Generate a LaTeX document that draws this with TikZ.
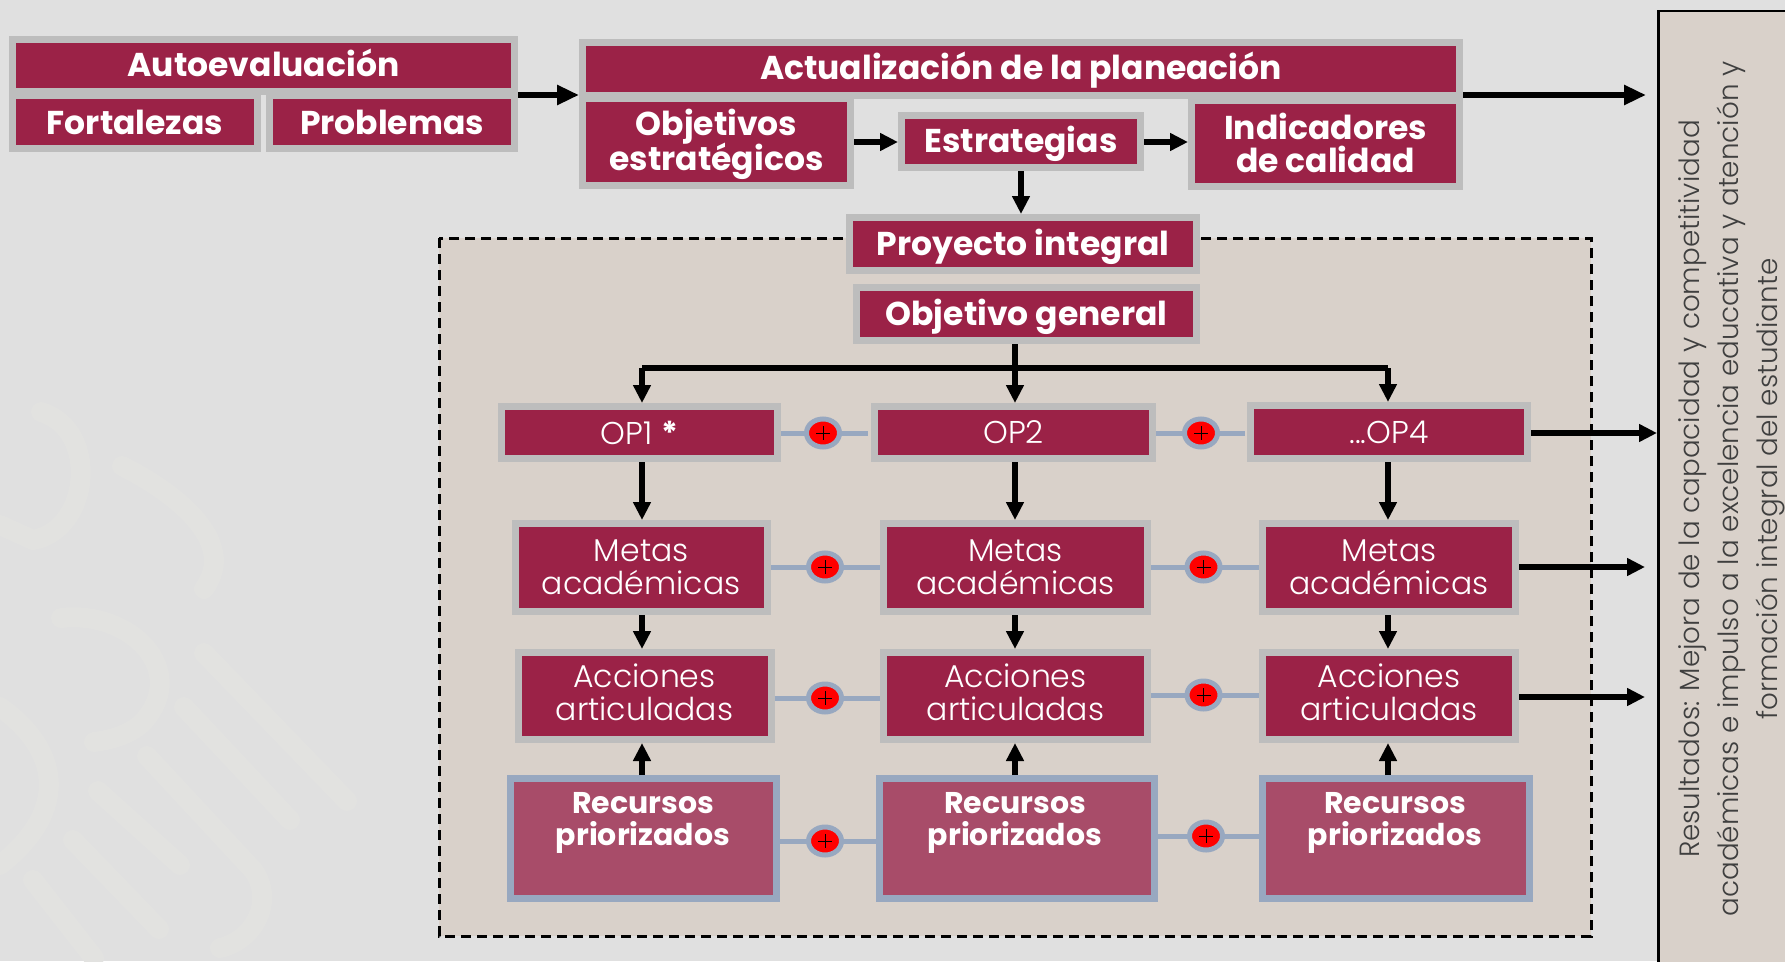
\documentclass[tikz,border=0pt]{standalone}
\usepackage{fontspec}
\setmainfont{Poppins}[UprightFont=* Light,BoldFont=* Bold]
\newfontfamily\regfont{Poppins}
\usetikzlibrary{arrows.meta,calc,shapes.geometric}
\definecolor{bgc}{HTML}{E0E0E0}
\definecolor{panelc}{HTML}{D9D1CA}
\definecolor{crim}{HTML}{9B2247}
\definecolor{crimlt}{HTML}{A84C69}
\definecolor{edgeg}{HTML}{BDBDBD}
\definecolor{edgeb}{HTML}{98A8C0}
\definecolor{wm}{HTML}{E2E2E0}
\definecolor{txtg}{HTML}{3F3F3F}
\tikzset{
  x=1pt,y=-1pt,
  boxbase/.style={rectangle,inner sep=0pt,outer sep=0.5\pgflinewidth,align=center,text=white,line width=7pt,font=\fontsize{33}{33}\selectfont\bfseries},
  redbox/.style={boxbase,fill=crim,draw=edgeg},
  thinbox/.style={boxbase,fill=crim,draw=edgeg,font=\fontsize{31.5}{33}\selectfont},
  resbox/.style={boxbase,fill=crimlt,draw=edgeb},
  restext/.style={align=center,text=white,inner sep=0pt,font=\fontsize{30}{32}\selectfont\bfseries},
  bigarrow/.style={line width=6pt,-{Triangle[length=22pt,width=19pt]}},
  midarrow/.style={line width=5.5pt,-{Triangle[length=18pt,width=17pt]}},
  link/.style={line width=5pt,draw=edgeb},
  plusdot/.style={ellipse,fill=red,draw=edgeb,line width=5pt,minimum width=33pt,minimum height=28pt,inner sep=0pt,outer sep=0pt},
  wmline/.style={line width=20pt,draw=wm,line cap=round},
}
\newcommand{\bx}[7]{%
  \node[#6,minimum width={(#4-#2-7)*1pt},minimum height={(#5-#3-7)*1pt}] (#1) at ({(#2+#4)/2},{(#3+#5)/2}) {#7};}
\newcommand{\nudge}[2]{\raisebox{#1pt}[\height][\depth]{#2}}
\newcommand{\plusat}[3]{%
  \node[plusdot] (#1) at (#2,#3) {};
  \draw[line width=1pt] ($(#1)+(-7,0)$) -- ($(#1)+(7,0)$) ($(#1)+(0,-7)$) -- ($(#1)+(0,7)$);}
\begin{document}
\begin{tikzpicture}
\useasboundingbox (0,0) rectangle (1785,961);
\fill[bgc] (0,0) rectangle (1785,961);
% faint watermark
\draw[wmline] (204,653) -- (347,801);
\draw[wmline] (184,707) -- (290,820);
\draw[wmline] (147,756) -- (253,870) .. controls (275,900) and (255,940) .. (220,948);
\draw[wmline] (98,791) -- (180,865);
\draw[wmline] (73,840) -- (159,929);
\draw[wmline] (33,880) -- (94,958);
\draw[wmline] (61,618) .. controls (130,610) and (190,670) .. (143,722) .. controls (130,735) and (110,740) .. (94,742);
\draw[wmline] (0,707) .. controls (60,750) and (70,810) .. (0,865);
\draw[wmline] (122,466) .. controls (170,490) and (240,540) .. (204,589);
\draw[wmline] (41,412) .. controls (100,430) and (90,530) .. (33,540) -- (0,525);
% inner panel
\coordinate (dtl) at (439,238);
\coordinate (dbr) at (1591,936);
\draw[fill=panelc,line width=3pt,dash pattern=on 10pt off 6pt] (dtl) rectangle (dbr);
% result panel
\coordinate (ptl) at (1658.5,11);
\coordinate (pbr) at (1800,980);
\draw[fill=panelc,line width=2.8pt] (ptl) rectangle (pbr);
\node[rotate=90,align=center,text=txtg,inner sep=0pt,font=\fontsize{27.8}{39}\selectfont] (restxt) at (1731.5,489)
  {Resultados: Mejora de la capacidad y competitividad\\académicas e impulso a la excelencia educativa y atención y\\formación integral del estudiante};
% column guides
\coordinate (ca) at (642,0);
\coordinate (cb) at (1015,0);
\coordinate (cc) at (1388,0);
\coordinate (cd) at (1021,0);
\coordinate (rowt) at (0,368);
\coordinate (outa) at (1646,95);
\coordinate (outb) at (1657,433);
\coordinate (outc) at (1645,567);
\coordinate (outd) at (1645,697);
% top boxes
\bx{auto}{9}{36}{518}{95}{redbox}{\nudge{2.3}{Autoevaluación}}
\bx{fort}{9}{92}{261}{152}{redbox}{Fortalezas}
\bx{prob}{266}{92}{518}{152}{redbox}{Problemas}
\bx{actu}{579}{39}{1463}{99}{redbox}{\nudge{-1}{Actualización de la planeación}}
\bx{obje}{579}{95}{854}{189}{redbox}{\nudge{-3}{Objetivos}\\\nudge{-1.5}{estratégicos}}
\bx{estr}{898}{112}{1144}{171}{redbox}{\nudge{-2.5}{Estrategias}}
\bx{indi}{1188}{97}{1463}{190}{redbox}{\nudge{1}{Indicadores}\\\nudge{1}{de calidad}}
\bx{proy}{846}{214}{1200}{274}{redbox}{\nudge{-3}{Proyecto integral}}
\bx{objg}{853}{284}{1200}{344}{redbox}{\nudge{-2.5}{Objetivo general}}
% OP row
\bx{opa}{498}{403}{781}{462}{thinbox}{OP1 {\regfont\bfseries *}}
\bx{opb}{871}{403}{1156}{462}{thinbox}{OP2}
\bx{opc}{1247}{402}{1531}{462}{thinbox}{...OP4}
% metas row
\bx{meta}{511.5}{520}{771}{615}{thinbox}{Metas\\académicas}
\bx{metb}{880}{520}{1151}{615}{thinbox}{Metas\\académicas}
\bx{metc}{1259}{520}{1519}{615}{thinbox}{Metas\\académicas}
% acciones row
\bx{acca}{514.5}{649}{774.5}{743}{thinbox}{\nudge{3.5}{Acciones}\\\nudge{3.5}{articuladas}}
\bx{accb}{880}{649}{1151}{743}{thinbox}{\nudge{3.5}{Acciones}\\\nudge{3.5}{articuladas}}
\bx{accc}{1259}{649}{1519}{743}{thinbox}{\nudge{3.5}{Acciones}\\\nudge{3.5}{articuladas}}
% recursos row
\bx{reca}{507}{775}{780}{902}{resbox}{}
\bx{recb}{875.5}{775}{1158}{902}{resbox}{}
\bx{recc}{1259}{775}{1532.5}{902}{resbox}{}
\node[restext] (recat) at (643,822.5) {Recursos\\priorizados};
\node[restext] (recbt) at (1015,822.5) {Recursos\\priorizados};
\node[restext] (recct) at (1395,822.5) {Recursos\\priorizados};
% top arrows
\draw[bigarrow] (auto.east |- 0,95) -- (actu.west |- 0,95);
\draw[bigarrow] (actu.east |- outa) -- (outa);
\draw[midarrow] (obje.east |- 0,142) -- (estr.west |- 0,142);
\draw[midarrow] (estr.east |- 0,142) -- (indi.west |- 0,142);
\draw[midarrow] (cd |- estr.south) -- (cd |- proy.north);
% tree
\draw[line width=5.5pt] (ca |- rowt) -- (cc |- rowt);
\draw[midarrow] (cb |- objg.south) -- (cb |- opb.north);
\draw[midarrow] (ca |- rowt) -- (ca |- opa.north);
\draw[midarrow] (cc |- rowt) -- (cc |- opc.north);
% column arrows
\draw[midarrow] (ca |- opa.south) -- (ca |- meta.north);
\draw[midarrow] (cb |- opb.south) -- (cb |- metb.north);
\draw[midarrow] (cc |- opc.south) -- (cc |- metc.north);
\draw[midarrow] (ca |- meta.south) -- (ca |- acca.north);
\draw[midarrow] (cb |- metb.south) -- (cb |- accb.north);
\draw[midarrow] (cc |- metc.south) -- (cc |- accc.north);
\draw[midarrow] (ca |- reca.north) -- (ca |- acca.south);
\draw[midarrow] (cb |- recb.north) -- (cb |- accb.south);
\draw[midarrow] (cc |- recc.north) -- (cc |- accc.south);
% out arrows
\draw[midarrow] (opc.east |- outb) -- (outb);
\draw[midarrow] (metc.east |- outc) -- (outc);
\draw[midarrow] (accc.east |- outd) -- (outd);
% plus links
\plusat{pa}{823}{433}
\plusat{pb}{1201}{433}
\plusat{pc}{825}{567}
\plusat{pd}{1203.5}{567}
\plusat{pe}{825}{698}
\plusat{pf}{1203.5}{695}
\plusat{pg}{825}{841}
\plusat{ph}{1206}{836}
\coordinate (lkaend) at (868,433);
\coordinate (lkbend) at (1245,433);
\draw[link] (opa.east |- pa) -- (pa.west);
\draw[link] (pa.east) -- (lkaend);
\draw[link] (opb.east |- pb) -- (pb.west);
\draw[link] (pb.east) -- (lkbend);
\draw[link] (meta.east |- pc) -- (pc.west);
\draw[link] (pc.east) -- (metb.west |- pc);
\draw[link] (metb.east |- pd) -- (pd.west);
\draw[link] (pd.east) -- (metc.west |- pd);
\draw[link] (acca.east |- pe) -- (pe.west);
\draw[link] (pe.east) -- (accb.west |- pe);
\draw[link] (accb.east |- pf) -- (pf.west);
\draw[link] (pf.east) -- (accc.west |- pf);
\draw[link] (reca.east |- pg) -- (pg.west);
\draw[link] (pg.east) -- (recb.west |- pg);
\draw[link] (recb.east |- ph) -- (ph.west);
\draw[link] (ph.east) -- (recc.west |- ph);
\end{tikzpicture}
\end{document}
